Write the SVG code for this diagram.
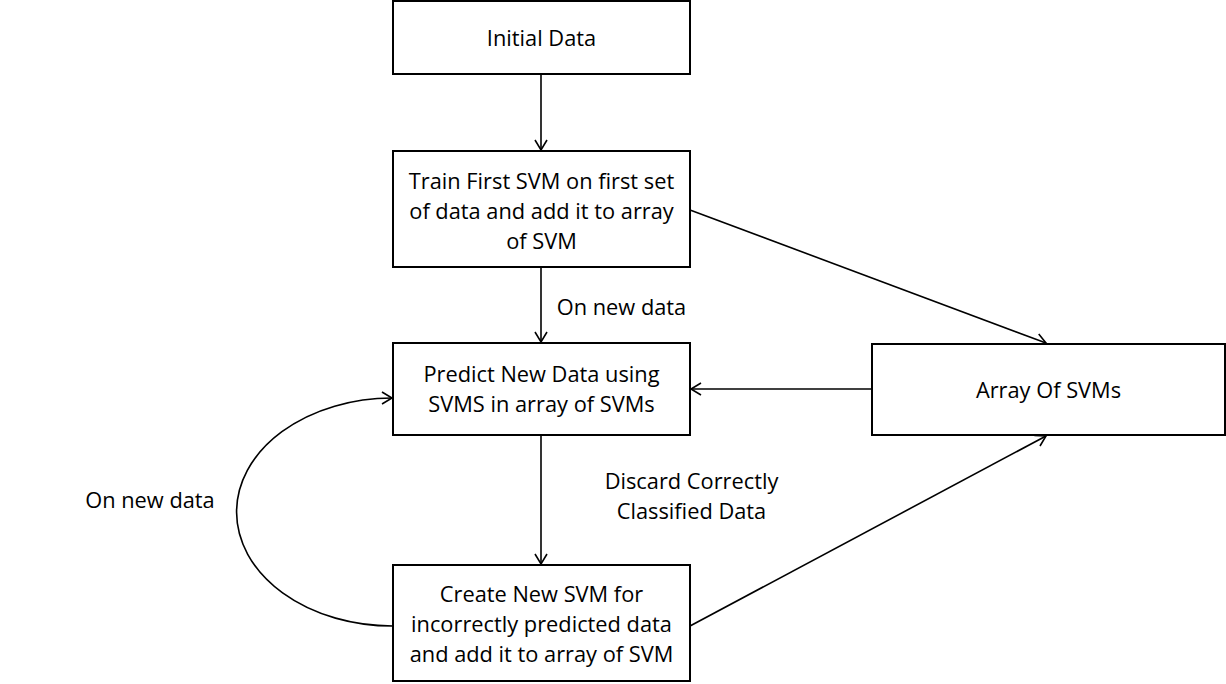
<svg xmlns="http://www.w3.org/2000/svg" width="1226" height="684" viewBox="0 0 1226 684">
<style>
.box{fill:#fff;stroke:#000;stroke-width:2}
.t{font-family:"Open Sans","Liberation Sans",Arial,sans-serif;font-size:21.8px;fill:#000;text-anchor:middle}
.c{fill:none;stroke:#000;stroke-width:1.6}
</style>
<defs>
<marker id="ah" markerUnits="userSpaceOnUse" markerWidth="16" markerHeight="16" refX="11" refY="7" orient="auto">
<path d="M1,1 L11,7 L1,13" fill="none" stroke="#000" stroke-width="1.6"/>
</marker>
</defs>
<rect width="1226" height="684" fill="#fff"/>
<g id="connectors">
<line class="c" x1="541" y1="74" x2="541" y2="150" marker-end="url(#ah)"/>
<line class="c" x1="541" y1="267" x2="541" y2="342" marker-end="url(#ah)"/>
<line class="c" x1="541" y1="435" x2="541" y2="564" marker-end="url(#ah)"/>
<line class="c" x1="690" y1="210" x2="1046" y2="343" marker-end="url(#ah)"/>
<line class="c" x1="872" y1="389" x2="691" y2="389" marker-end="url(#ah)"/>
<line class="c" x1="690" y1="626" x2="1046" y2="436" marker-end="url(#ah)"/>
<path class="c" d="M393,626 A156,114 0 0 1 392,398" marker-end="url(#ah)"/>
</g>
<g id="n-initial">
<rect class="box" x="393" y="1" width="297" height="73"/>
<text class="t" x="541.5" y="46">Initial Data</text>
</g>
<g id="n-train">
<rect class="box" x="393" y="151" width="297" height="116"/>
<text class="t" x="541.5" y="189">Train First SVM on first set</text>
<text class="t" x="541.5" y="219">of data and add it to array</text>
<text class="t" x="541.5" y="249">of SVM</text>
</g>
<g id="n-predict">
<rect class="box" x="393" y="343" width="297" height="92"/>
<text class="t" x="541.5" y="382">Predict New Data using</text>
<text class="t" x="541.5" y="412">SVMS in array of SVMs</text>
</g>
<g id="n-create">
<rect class="box" x="393" y="565" width="297" height="116"/>
<text class="t" x="541.5" y="602">Create New SVM for</text>
<text class="t" x="541.5" y="632">incorrectly predicted data</text>
<text class="t" x="541.5" y="662">and add it to array of SVM</text>
</g>
<g id="n-array">
<rect class="box" x="872" y="344" width="353" height="91"/>
<text class="t" x="1048.5" y="398">Array Of SVMs</text>
</g>
<g id="labels">
<text class="t" x="621.5" y="315">On new data</text>
<text class="t" x="691.5" y="489">Discard Correctly</text>
<text class="t" x="691.5" y="519">Classified Data</text>
<text class="t" x="150" y="508">On new data</text>
</g>
</svg>
